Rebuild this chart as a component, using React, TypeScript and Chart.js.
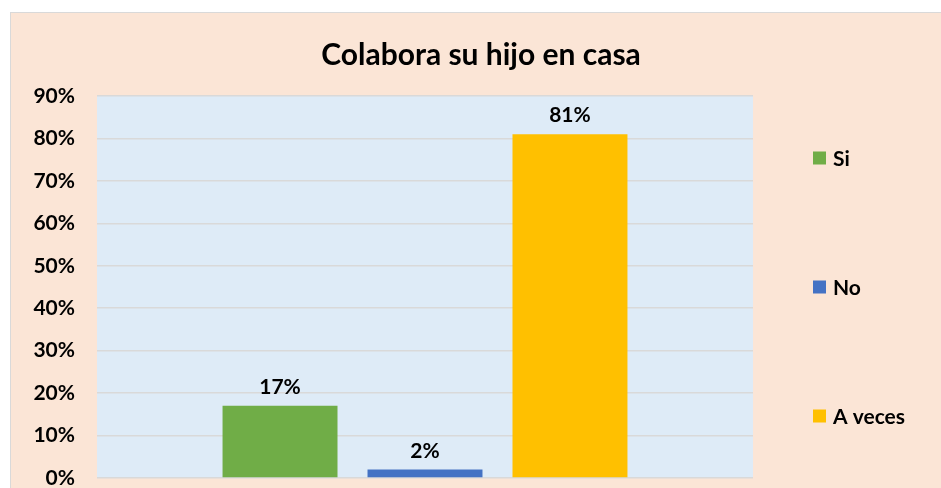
import React, { useEffect, useRef } from "react";
import { Chart, registerables } from "chart.js";

Chart.register(...registerables);

const seriesNames = ["Si", "No", "A veces"];
const seriesValues = [17, 2, 81];
const seriesColors = ["#70AD47", "#4472C4", "#FFC000"];
const categories = [""];
const titleText = "Colabora su hijo en casa";

const FONT = "Lato, 'Open Sans', sans-serif";

const bgPlugin = {
  id: "bgPlugin",
  beforeDraw(chart: any) {
    const { ctx, chartArea } = chart;
    ctx.save();
    ctx.fillStyle = "#ffffff";
    ctx.fillRect(0, 0, chart.width, chart.height);
    ctx.fillStyle = "#FBE5D6";
    ctx.fillRect(10.5, 12.5, chart.width + 20, chart.height + 20);
    ctx.strokeStyle = "#D9D9D9";
    ctx.lineWidth = 1;
    ctx.strokeRect(10.5, 12.5, chart.width + 20, chart.height + 20);
    ctx.fillStyle = "#DEEBF7";
    ctx.fillRect(chartArea.left, chartArea.top, chartArea.right - chartArea.left, chartArea.bottom - chartArea.top);
    ctx.restore();
  },
};

const labelPlugin = {
  id: "labelPlugin",
  afterDatasetsDraw(chart: any) {
    const { ctx, chartArea } = chart;
    ctx.save();
    // title
    ctx.font = `bold 30px ${FONT}`;
    ctx.fillStyle = "#000000";
    ctx.textAlign = "center";
    ctx.textBaseline = "alphabetic";
    ctx.fillText(titleText, 481, 65);
    // data labels
    ctx.font = `bold 21px ${FONT}`;
    ctx.textBaseline = "bottom";
    chart.data.datasets.forEach((ds: any, i: number) => {
      const meta = chart.getDatasetMeta(i);
      meta.data.forEach((bar: any, j: number) => {
        ctx.fillText(`${ds.data[j]}%`, bar.x, bar.y - 8);
      });
    });
    // legend
    const mid = (chartArea.top + chartArea.bottom) / 2;
    const spacing = 129;
    ctx.textAlign = "left";
    ctx.textBaseline = "middle";
    chart.data.datasets.forEach((ds: any, i: number) => {
      const y = mid + (i - 1) * spacing;
      const x = chartArea.right + 60;
      ctx.fillStyle = ds.backgroundColor;
      ctx.fillRect(x, y - 6.5, 13, 13);
      ctx.fillStyle = "#000000";
      ctx.fillText(ds.label, x + 20, y + 1);
    });
    ctx.restore();
  },
};

export default function App() {
  const ref = useRef<HTMLCanvasElement>(null);
  useEffect(() => {
    if (!ref.current) return;
    const chart = new Chart(ref.current, {
      type: "bar",
      data: {
        labels: categories,
        datasets: seriesNames.map((name, i) => ({
          label: name,
          data: [seriesValues[i]],
          backgroundColor: seriesColors[i],
          borderWidth: 0,
        })),
      },
      options: {
        animation: false,
        responsive: false,
        devicePixelRatio: 1,
        layout: { padding: { top: 96, left: 10, right: 188, bottom: 10 } },
        datasets: {
          bar: { categoryPercentage: 0.663, barPercentage: 0.793 },
        },
        plugins: {
          legend: { display: false },
          tooltip: { enabled: false },
          title: { display: false },
        },
        scales: {
          x: {
            display: false,
            grid: { display: false },
          },
          y: {
            min: 0,
            max: 90,
            border: { display: false },
            ticks: {
              stepSize: 10,
              padding: 22,
              color: "#000000",
              font: { family: FONT, size: 21, weight: "bold" },
              callback: (v: any) => `${v}%`,
            },
            grid: { color: "#D9D9D9", lineWidth: 1.5, drawTicks: false },
            afterFit: (scale: any) => {
              scale.width = 87;
              scale.paddingTop = 0;
              scale.paddingBottom = 0;
            },
          },
        },
      },
      plugins: [bgPlugin, labelPlugin],
    });
    return () => chart.destroy();
  }, []);
  return (
    <div style={{ position: "fixed", left: 0, top: 0, width: 941, height: 488 }}>
      <canvas ref={ref} width={941} height={488} style={{ width: 941, height: 488, display: "block" }} />
    </div>
  );
}
